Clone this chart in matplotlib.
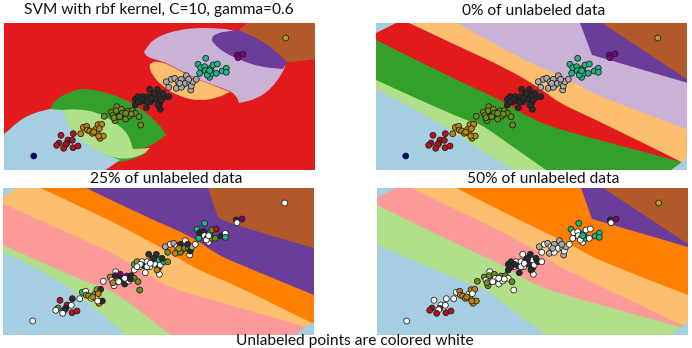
import matplotlib
matplotlib.use("Agg")
import matplotlib.pyplot as plt
from matplotlib.path import Path
from matplotlib.patches import PathPatch

plt.rcParams["font.family"] = ["Lato", "DejaVu Sans"]

W, H = 692, 348
PANEL_W, PANEL_H = 311, 147

# Decision-region colours (Paired palette)
LBLUE, LGREEN, GREEN, PINK, RED = "#a6cee3", "#b2df8a", "#33a02c", "#fb9a99", "#e31a1c"
LORANGE, ORANGE, LILAC, PURPLE, BROWN = "#fdbf6f", "#ff7f00", "#cab2d6", "#6a3d9a", "#b15928"

# Point colours by class letter
point_colors = {"N": "#00008b", "R": "#b5121b", "G": "#b8860b", "O": "#6e8b1e", "D": "#2b2b2b",
                "A": "#a9a9a9", "T": "#1db584", "P": "#800080", "Y": "#b0a020", "W": "#ffffff"}

# Sample positions, class by class
navy_xy = [(29.7, 133)]
red_xy = [(57, 112.3), (69.3, 110.7), (55, 120), (52.7, 122.3), (64, 117), (68.3, 117.3),
          (62.7, 120.3), (61.7, 121.7), (59.7, 125.3), (69, 124.7), (74, 123)]
gold_xy = [(76.7, 110.7), (79.3, 104.3), (82.7, 103.3), (83.3, 107), (85.7, 108), (88.3, 110.3),
           (91.7, 106.3), (93, 109.7), (94, 101.7), (97.7, 101.3), (95.3, 105.7), (89.7, 109),
           (96, 115.3), (99.3, 113), (94.7, 113)]
olive_xy = [(100.3, 93.3), (112.7, 83.7), (107.3, 89), (109, 92), (111, 97.7), (112.3, 87.7),
            (114.7, 93), (117.3, 86.3), (118.3, 90.3), (121.7, 96), (124, 88), (125.7, 93),
            (128.3, 87.7), (131.3, 90.3), (135, 93.7), (136.7, 102), (110, 94.7), (115.7, 93.7),
            (121.7, 90.3), (127.3, 91)]
dark_xy = [(131.3, 76.3), (131.3, 82), (134, 73.7), (136.7, 78.7), (139, 73.7), (141.3, 77.7),
           (144, 73.7), (145.7, 66.3), (146.7, 78.7), (149, 72), (152.3, 76.3), (153.3, 66.3),
           (155.7, 72), (155.7, 79.7), (157.3, 77), (160.7, 73.7), (164.7, 73.7), (142.3, 84.7),
           (156.3, 86.3), (137.3, 76.3), (144, 78.7), (150.7, 70.3), (159, 70.3), (147.3, 75.3),
           (154, 82), (134, 78.7)]
gray_xy = [(162.3, 58.7), (164.7, 64.3), (167.3, 56.3), (170.7, 55.3), (172.3, 65.3), (174, 58.7),
           (177.3, 56.3), (179, 62), (182.3, 52.7), (181.3, 60.3), (185.7, 60.3), (186.7, 67),
           (187.3, 63), (189, 58.7), (192.3, 56.3), (177.3, 64.3), (175.7, 60.3), (184.7, 56.3)]
teal_xy = [(201.7, 35.3), (194, 41.3), (196.7, 44.7), (195.7, 50.3), (200.7, 43.7), (201.3, 47.7),
           (204, 50.3), (205.7, 54.3), (206.7, 45.3), (209, 42), (213.3, 41), (208, 50.3),
           (212.3, 50.3), (218.3, 48), (222.3, 45.3), (222.3, 49.3), (203.3, 52), (205.7, 47.7)]
violet_xy = [(233.3, 32), (234, 34.7), (239, 31)]
yellow_xy = [(281.7, 15)]

points_xy = navy_xy + red_xy + gold_xy + olive_xy + dark_xy + gray_xy + teal_xy + violet_xy + yellow_xy

# Labels shown per panel, one letter per sample, W = unlabeled
labels_full = ("N" + "R" * 11 + "G" * 15 + "O" * 20 + "D" * 26 + "A" * 18 + "T" * 18 + "PPP" + "Y")
labels_25 = ("W" + "RDOWRWDDWRR" + "WTWGGWTWGDGGGDW" + "WWGWWDWPDDPWDOOOGWWD"
             + "TWGWWDWDWGWDTDWTOWWWWDDWGW" + "AOWAGWDOWOGWDAWOGD"
             + "TTDTDWDWTOROODWTWW" + "DWP" + "W")
labels_50 = ("W" + "WWRRWWRWRRR" + "WWGGGGWGGGWGGGG" + "OWOWOOWOWWOWOWOWOWWW"
             + "DDDWWDWWWDDDWDWDWDWDWDDWDD" + "AWWAAWAWAWAAWAWWAA"
             + "TTWWWWWWTWWTWTTTWT" + "DWP" + "Y")

# Curved decision regions of the plain RBF classifier (painted on a red ground).
# A repeated vertex keeps a sharp corner in the outline.
rbf_blue = [(-20, 124), (0, 112), (13, 99), (29, 90), (46, 86), (46, 86), (58, 87), (58, 87),
            (63, 100), (76, 117), (96, 130), (116, 137), (116, 137), (106, 144), (96, 150),
            (96, 165), (-20, 165)]
rbf_green = [(46, 86), (46, 86), (51, 77), (63, 70), (79, 65), (96, 68), (119, 75), (139, 87),
             (156, 102), (162, 112), (162, 112), (146, 124), (129, 126), (129, 126), (143, 129),
             (143, 129), (136, 134), (119, 139), (111, 139), (111, 139), (96, 130), (63, 100)]
rbf_lgreen = [(58, 87), (58, 87), (73, 86), (93, 89), (109, 98), (124, 110), (129, 126), (129, 126),
              (146, 125), (146, 125), (139, 132), (119, 137), (96, 131), (76, 118), (63, 102)]
rbf_lilac = [(140, 29), (140, 29), (143, 24), (150, 16), (163, 10), (176, 7), (189, 5), (213, 5),
             (236, 8), (283, 39), (279, 49), (268, 65), (253, 76), (235, 80), (235, 80), (232, 72),
             (224, 67), (203, 60), (183, 51), (163, 40), (153, 37), (143, 34)]
rbf_lorange = [(145, 43), (147, 40), (153, 38), (166, 42), (183, 52), (203, 60), (226, 69), (226, 69),
               (213, 75), (196, 78), (176, 74), (159, 64), (148, 52)]
rbf_purple = [(207, 15), (213, 10), (226, 8), (236, 7), (236, 7), (263, 20), (283, 39), (283, 39),
              (279, 46), (279, 46), (256, 44), (236, 37), (219, 29), (209, 20)]
rbf_brown = [(235, 7), (235, 7), (244, 0), (244, -20), (330, -20), (330, 36), (311, 36), (289, 39),
             (283, 39), (283, 39), (263, 20)]

# Band boundaries of the semi-supervised panels, lowest band first
bands_0 = [
    (LGREEN, [(0, 66), (74, 105), (104, 128), (138, 147)]),
    (GREEN, [(0, 57), (87, 97), (103, 100), (123, 114), (170, 147)]),
    (RED, [(0, 17), (70, 52), (103, 67), (130, 80), (160, 98.7), (203, 112), (303, 138), (311, 141)]),
    (LORANGE, [(33, 0), (83, 23.7), (130, 45), (167, 67), (183, 80), (210, 92), (306, 139), (311, 142)]),
    (LILAC, [(81.7, 0), (136.7, 32), (183, 52), (203, 62), (223, 73.7), (311, 106.3)]),
    (PURPLE, [(204, 0), (216, 32), (216, 32), (311, 59.7)]),
    (BROWN, [(226, 0), (311, 56.3)]),
]
bands_25 = [
    (LGREEN, [(0, 64), (53, 89), (77, 110), (100, 126), (123, 147)]),
    (PINK, [(0, 57), (80, 93), (97, 97.7), (120, 109), (168, 147)]),
    (LORANGE, [(0, 16), (87, 54), (130, 76), (162, 99), (230, 118), (303, 139), (311, 142)]),
    (ORANGE, [(37, 0), (90, 24), (143, 51), (177, 71), (197, 83), (230, 96), (307, 134), (311, 136)]),
    (PURPLE, [(83, 0), (143, 29), (190, 49), (210, 64), (230, 74), (311, 107)]),
    (BROWN, [(205, 0), (215, 29), (215, 29), (227, 36), (311, 60)]),
]
bands_50 = [
    (LGREEN, [(0, 57), (86, 94), (109, 101), (126, 116), (169, 147)]),
    (PINK, [(0, 17), (69, 51), (102, 66), (129, 79), (159, 98), (202, 111), (303, 139), (311, 141)]),
    (LORANGE, [(34, 0), (82, 23), (129, 46), (166, 66), (182, 79), (209, 91), (306, 138), (311, 140)]),
    (ORANGE, [(79, 0), (136, 29), (182, 51), (202, 61), (222, 73), (311, 107)]),
    (PURPLE, [(204, 0), (215, 31), (215, 31), (311, 59)]),
    (BROWN, [(226, 0), (311, 56)]),
]

# Left-out corners, still showing the base class
corner_0 = ([(0, 0), (20, 0), (0, 10)], [(311, 134), (306, 139), (295, 147), (311, 147)])
corner_25 = ([(0, 0), (14, 0), (0, 9)], [(311, 134), (303, 138), (293, 147), (311, 147)])
corner_50 = ([(0, 0), (19, 0), (0, 10)], [(311, 134), (306, 138), (295, 147), (311, 147)])

titles = ["SVM with rbf kernel, C=10, gamma=0.6", "0% of unlabeled data",
          "25% of unlabeled data", "50% of unlabeled data"]
footer = "Unlabeled points are colored white"


def panel_axes(fig, left, top):
    ax = fig.add_axes([left / W, 1 - (top + PANEL_H) / H, PANEL_W / W, PANEL_H / H])
    ax.set_xlim(0, PANEL_W)
    ax.set_ylim(PANEL_H, 0)
    ax.axis("off")
    return ax


def smooth_region(ax, pts, color, z):
    # Closed quadratic curve through the midpoints of the outline
    mids = [((pts[i][0] + pts[(i + 1) % len(pts)][0]) / 2,
             (pts[i][1] + pts[(i + 1) % len(pts)][1]) / 2) for i in range(len(pts))]
    verts, codes = [mids[-1]], [Path.MOVETO]
    for i in range(len(pts)):
        verts += [pts[i], mids[i]]
        codes += [Path.CURVE3, Path.CURVE3]
    patch = PathPatch(Path(verts, codes), facecolor=color, edgecolor="none", zorder=z)
    ax.add_patch(patch)


def band_patch(ax, line, color, z):
    # Area above a boundary, the boundary eased around its inner vertices
    verts, codes = [line[0]], [Path.MOVETO]
    for i in range(1, len(line) - 1):
        end = ((line[i][0] + line[i + 1][0]) / 2, (line[i][1] + line[i + 1][1]) / 2)
        if i == len(line) - 2:
            end = line[-1]
        verts += [line[i], end]
        codes += [Path.CURVE3, Path.CURVE3]
    if len(line) == 2:
        verts.append(line[1])
        codes.append(Path.LINETO)
    for corner in [(400, 220), (400, -100), (-100, -100), line[0]]:
        verts.append(corner)
        codes.append(Path.LINETO)
    ax.add_patch(PathPatch(Path(verts, codes), facecolor=color, edgecolor="none", zorder=z))


def draw_bands(ax, base, bands, corners):
    ax.fill([0, PANEL_W, PANEL_W, 0], [0, 0, PANEL_H, PANEL_H], color=base, lw=0, zorder=1)
    for k, (color, line) in enumerate(bands):
        band_patch(ax, line, color, 2 + k)
    for corner in corners:
        ax.fill(*zip(*corner), color=base, lw=0, zorder=10)


def draw_points(ax, labels):
    xs, ys = zip(*points_xy)
    ax.scatter(xs, ys, s=18, c=[point_colors[c] for c in labels], edgecolors="#1a1a1a",
               linewidths=0.55, zorder=20)


fig = plt.figure(figsize=(W / 100, H / 100), dpi=100, facecolor="white")

ax1 = panel_axes(fig, 4, 23)
ax1.fill([0, PANEL_W, PANEL_W, 0], [0, 0, PANEL_H, PANEL_H], color=RED, lw=0, zorder=1)
for z, (pts, col) in enumerate([(rbf_green, GREEN), (rbf_lgreen, LGREEN), (rbf_blue, LBLUE),
                                (rbf_lilac, LILAC), (rbf_lorange, LORANGE),
                                (rbf_purple, PURPLE), (rbf_brown, BROWN)]):
    smooth_region(ax1, pts, col, 2 + z)
draw_points(ax1, labels_full)

ax2 = panel_axes(fig, 376, 23)
draw_bands(ax2, LBLUE, bands_0, corner_0)
draw_points(ax2, labels_full)

ax3 = panel_axes(fig, 3, 188)
draw_bands(ax3, LBLUE, bands_25, corner_25)
draw_points(ax3, labels_25)

ax4 = panel_axes(fig, 377, 188)
draw_bands(ax4, LBLUE, bands_50, corner_50)
draw_points(ax4, labels_50)

for (cx, cy), t in zip([(159, 10), (534, 11), (166, 179), (543, 179)], titles):
    fig.text(cx / W, 1 - cy / H, t, ha="center", va="center", fontsize=11.2, color="#111111")
fig.text(355 / W, 1 - 340.5 / H, footer, ha="center", va="center", fontsize=11.2, color="#111111")

fig.savefig("out.png", dpi=100)
